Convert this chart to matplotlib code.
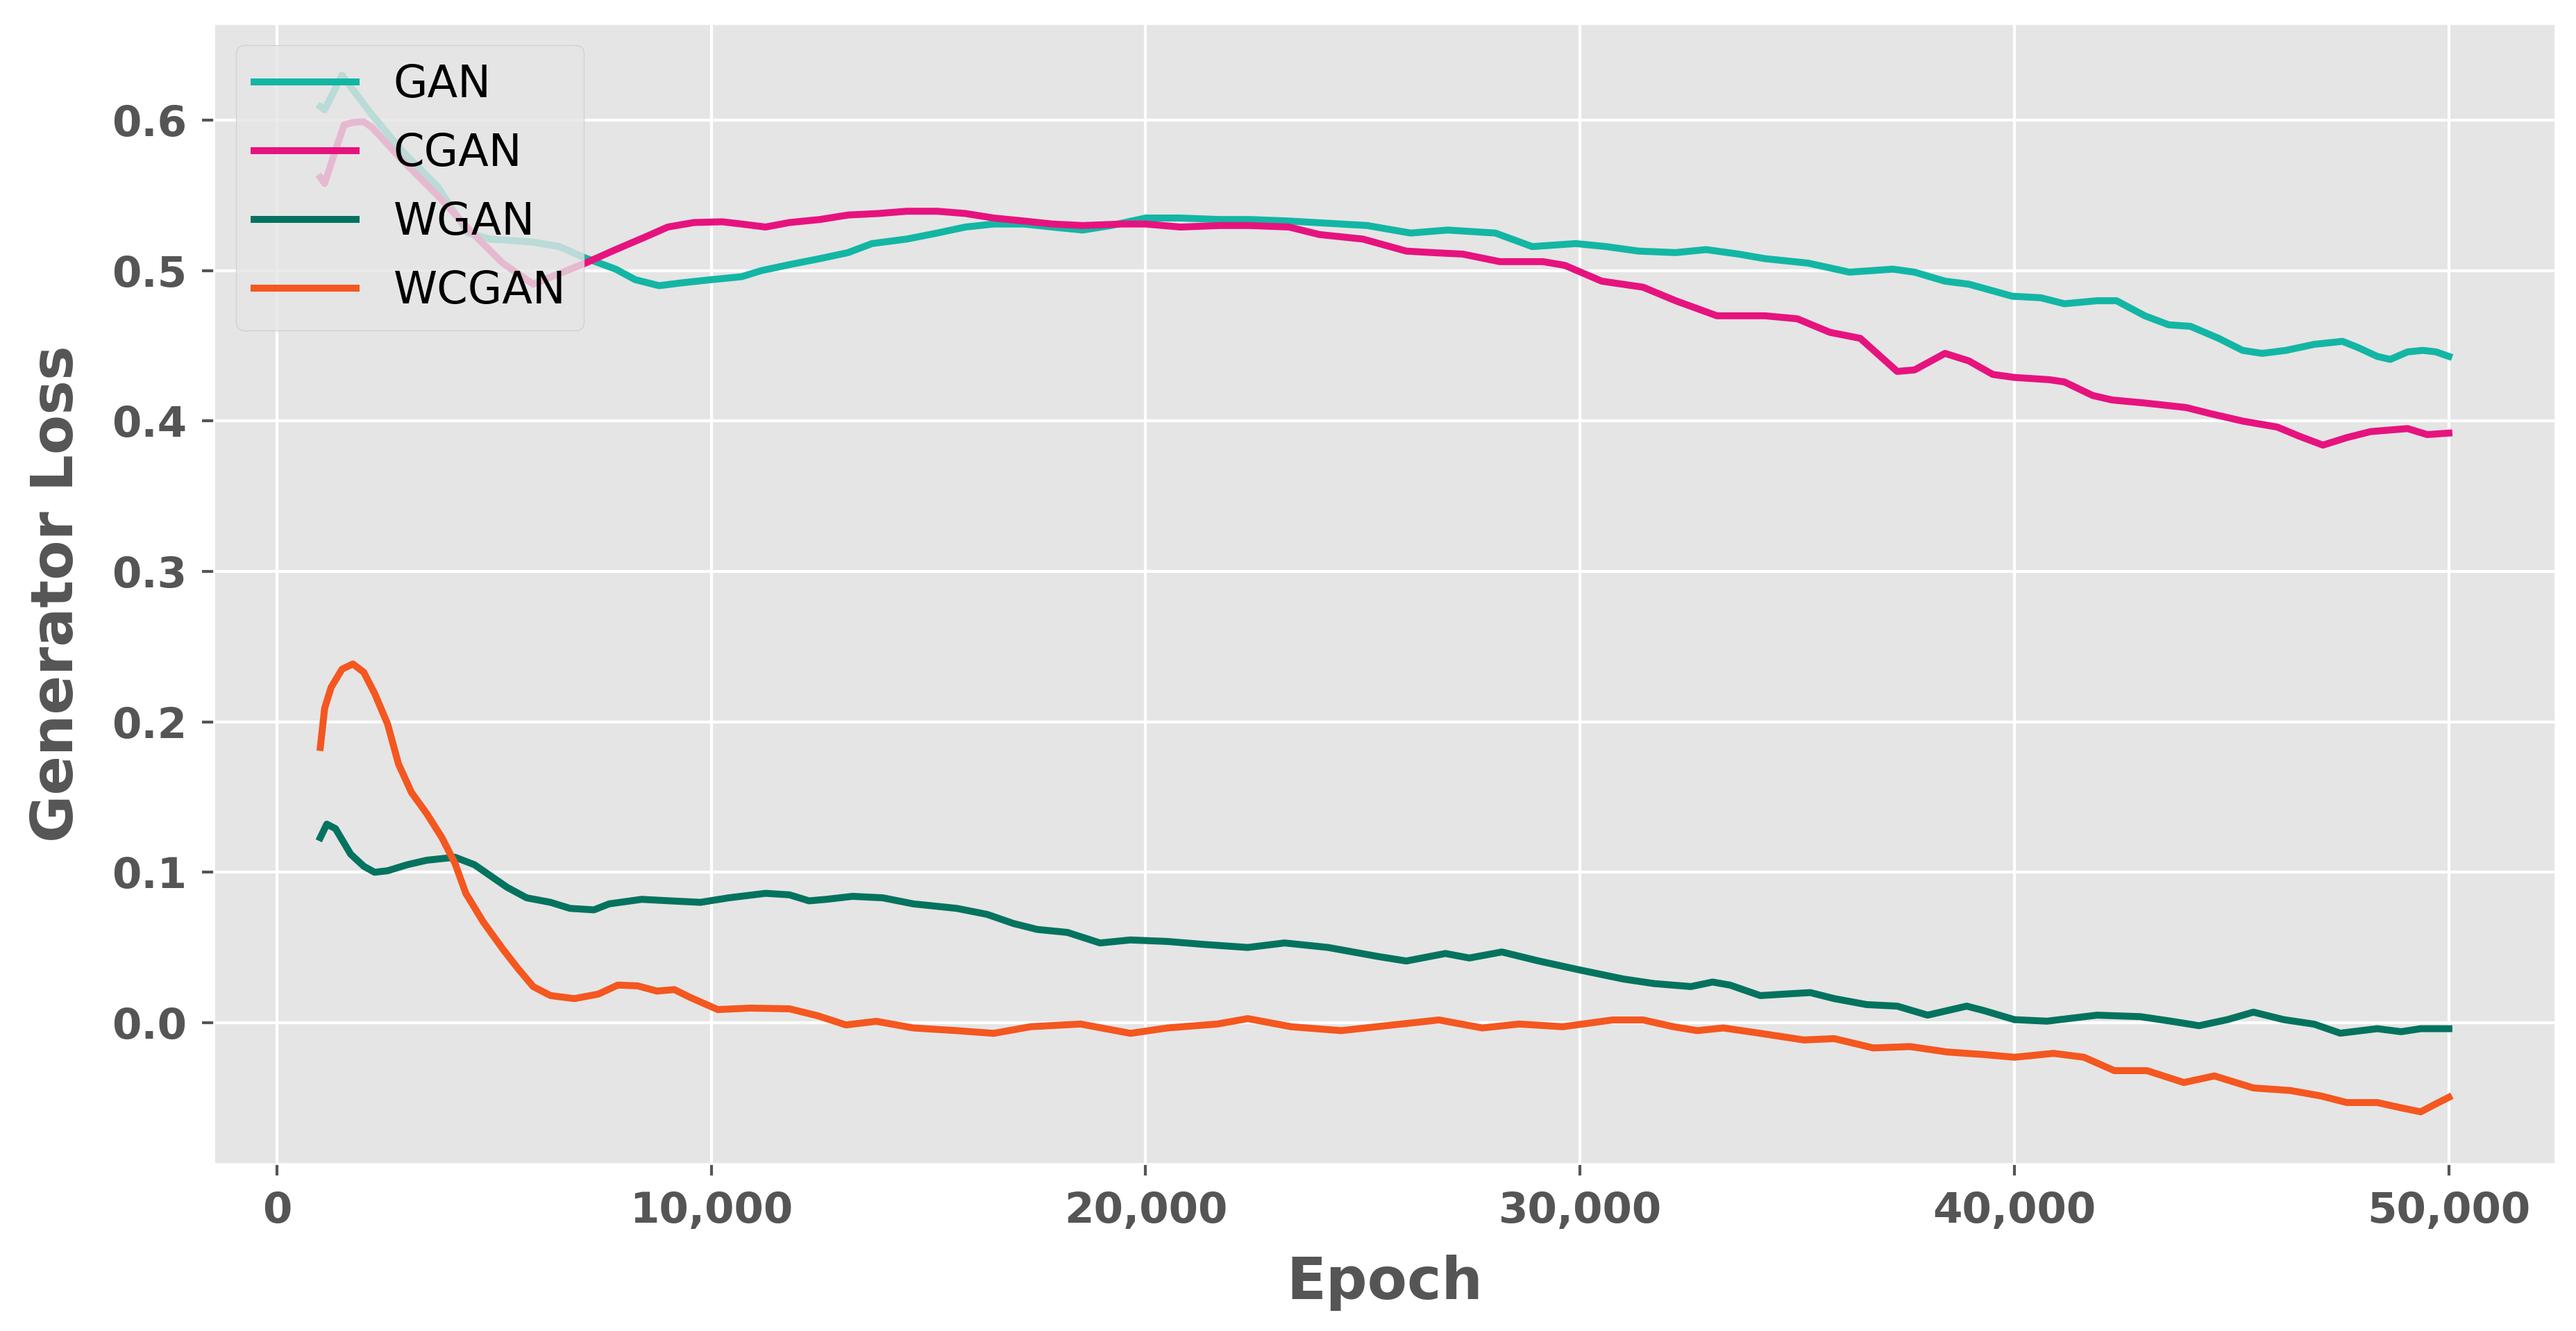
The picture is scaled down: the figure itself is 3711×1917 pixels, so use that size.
import matplotlib
matplotlib.use("Agg")
import matplotlib.pyplot as plt
from matplotlib.ticker import FuncFormatter

plt.style.use("ggplot")

# values (smoothed generator loss)
gan_epoch = [1000, 1100, 1500, 2150, 2870, 3700, 4400, 4900, 5900, 6500, 7050, 7800, 8250,
             8800, 9350, 10000, 10700, 11150, 11800, 12500, 13150, 13700, 14500, 15200,
             15850, 16500, 17200, 17850, 18550, 19200, 20000, 20800, 21700, 22400, 23300,
             24500, 25100, 26100, 26950, 28050, 28900, 29900, 30600, 31350, 32200, 32900,
             33650, 34250, 35250, 36200, 37200, 37700, 38400, 38950, 39950, 40600, 41150,
             41900, 42350, 43000, 43550, 44050, 44700, 45250, 45700, 46250, 46900, 47550,
             47900, 48350, 48650, 49050, 49400, 49700, 50000]
gan_loss = [0.609, 0.607, 0.630, 0.605, 0.580, 0.556, 0.525, 0.521, 0.519, 0.516, 0.509,
            0.501, 0.494, 0.490, 0.492, 0.494, 0.496, 0.500, 0.504, 0.508, 0.512, 0.518,
            0.521, 0.525, 0.529, 0.531, 0.531, 0.529, 0.527, 0.530, 0.535, 0.535, 0.534,
            0.534, 0.533, 0.531, 0.530, 0.525, 0.527, 0.525, 0.516, 0.518, 0.516, 0.513,
            0.512, 0.514, 0.511, 0.508, 0.505, 0.499, 0.501, 0.499, 0.493, 0.491, 0.483,
            0.482, 0.478, 0.480, 0.480, 0.470, 0.464, 0.463, 0.455, 0.447, 0.445, 0.447,
            0.451, 0.453, 0.449, 0.443, 0.441, 0.446, 0.447, 0.446, 0.443]

cgan_epoch = [1000, 1100, 1350, 1550, 1750, 2000, 2200, 2870, 3700, 4500, 5200, 5900, 6500,
              7100, 7800, 8450, 9000, 9600, 10250, 10700, 11250, 11800, 12500, 13150, 13850,
              14500, 15200, 15850, 16500, 17200, 17850, 18550, 19450, 20000, 20800, 21700,
              22400, 23300, 24000, 25000, 26000, 26600, 27300, 28150, 29150, 29650, 30500,
              31450, 32200, 33150, 34250, 35000, 35750, 36450, 37300, 37700, 38400, 38950,
              39500, 40000, 40800, 41150, 41800, 42250, 43000, 43950, 44500, 45250, 46050,
              46550, 47100, 47650, 48200, 49050, 49500, 50000]
cgan_loss = [0.562, 0.558, 0.580, 0.597, 0.5985, 0.599, 0.595, 0.574, 0.550, 0.525, 0.505,
             0.491, 0.498, 0.505, 0.514, 0.522, 0.529, 0.532, 0.5325, 0.531, 0.529, 0.532,
             0.534, 0.537, 0.538, 0.5395, 0.5395, 0.538, 0.535, 0.533, 0.531, 0.530, 0.531,
             0.531, 0.529, 0.530, 0.530, 0.529, 0.524, 0.521, 0.513, 0.512, 0.511, 0.506,
             0.506, 0.5035, 0.493, 0.489, 0.480, 0.470, 0.470, 0.468, 0.459, 0.455, 0.433,
             0.434, 0.445, 0.440, 0.431, 0.429, 0.4275, 0.426, 0.417, 0.414, 0.412, 0.409,
             0.405, 0.400, 0.396, 0.390, 0.384, 0.389, 0.393, 0.395, 0.391, 0.392]

wgan_epoch = [1000, 1150, 1350, 1700, 2000, 2250, 2550, 3000, 3450, 4100, 4550, 4900, 5300,
              5750, 6300, 6750, 7300, 7650, 8400, 9050, 9750, 10400, 11250, 11800, 12250,
              12650, 13250, 13950, 14650, 15650, 16350, 16950, 17500, 18200, 18950, 19650,
              20500, 21350, 22350, 23200, 24200, 25350, 26000, 26900, 27450, 28200, 29050,
              30000, 31000, 31700, 32550, 33050, 33450, 34150, 34700, 35300, 35850, 36600,
              37300, 38000, 38900, 39300, 40000, 40750, 41900, 42900, 43600, 44250, 44900,
              45500, 46200, 46900, 47500, 48350, 48900, 49350, 50000]
wgan_loss = [0.123, 0.132, 0.129, 0.112, 0.104, 0.100, 0.101, 0.105, 0.108, 0.110, 0.105,
             0.098, 0.090, 0.083, 0.080, 0.076, 0.075, 0.079, 0.082, 0.081, 0.080, 0.083,
             0.086, 0.085, 0.081, 0.082, 0.084, 0.083, 0.079, 0.076, 0.072, 0.066, 0.062,
             0.060, 0.053, 0.055, 0.054, 0.052, 0.050, 0.053, 0.050, 0.044, 0.041, 0.046,
             0.043, 0.047, 0.041, 0.035, 0.029, 0.026, 0.024, 0.027, 0.025, 0.018, 0.019,
             0.020, 0.016, 0.012, 0.011, 0.005, 0.011, 0.008, 0.002, 0.001, 0.005, 0.004,
             0.001, -0.002, 0.002, 0.007, 0.002, -0.001, -0.007, -0.004, -0.006, -0.004,
             -0.004]

wcgan_epoch = [1000, 1100, 1250, 1500, 1750, 2000, 2250, 2550, 2800, 3100, 3450, 3800, 4100,
               4350, 4750, 5200, 5550, 5900, 6300, 6850, 7400, 7850, 8300, 8750, 9150, 9500,
               10150, 10900, 11800, 12450, 13100, 13800, 14650, 15650, 16500, 17350, 18500,
               19650, 20500, 21650, 22350, 23350, 24500, 25600, 26750, 27750, 28600, 29600,
               30750, 31450, 32150, 32700, 33300, 34150, 35150, 35850, 36750, 37600, 38450,
               39300, 40000, 40900, 41600, 42300, 43050, 43900, 44600, 45500, 46350, 47050,
               47650, 48350, 48900, 49350, 49700, 50000]
wcgan_loss = [0.183, 0.209, 0.223, 0.235, 0.2385, 0.233, 0.219, 0.1985, 0.172, 0.153, 0.139,
              0.123, 0.106, 0.086, 0.067, 0.049, 0.036, 0.024, 0.018, 0.016, 0.019, 0.025,
              0.0245, 0.021, 0.022, 0.017, 0.0087, 0.0097, 0.0092, 0.0046, -0.0015, 0.0009,
              -0.0035, -0.0053, -0.0071, -0.0027, -0.0009, -0.0071, -0.0035, -0.0009, 0.0027,
              -0.0027, -0.0053, -0.0018, 0.0018, -0.0035, -0.0009, -0.0027, 0.0018, 0.0018,
              -0.0027, -0.0053, -0.0035, -0.0071, -0.0115, -0.0106, -0.0168, -0.0159, -0.0195,
              -0.0212, -0.023, -0.0204, -0.023, -0.0319, -0.0319, -0.0398, -0.0354, -0.0434,
              -0.0451, -0.0487, -0.0531, -0.0531, -0.0566, -0.0593, -0.054, -0.0496]

fig = plt.figure(figsize=(18.56, 9.585), dpi=200)
ax = fig.add_axes([0.083, 0.1257, 0.9087, 0.8568])

lw = 3.6
ax.plot(gan_epoch, gan_loss, color="#13B6A4", lw=lw, label="GAN")
ax.plot(cgan_epoch, cgan_loss, color="#E6137F", lw=lw, label="CGAN")
ax.plot(wgan_epoch, wgan_loss, color="#03735F", lw=lw, label="WGAN")
ax.plot(wcgan_epoch, wcgan_loss, color="#F4571F", lw=lw, label="WCGAN")

ax.grid(True, color="white", lw=1.5)
ax.set_facecolor("#E5E5E5")
ax.xaxis.set_major_formatter(FuncFormatter(lambda v, p: f"{int(v):,}"))

ax.tick_params(axis="both", which="major", length=6, width=1.5, pad=8,
               colors="#555555", labelsize=22)
for lab in ax.get_xticklabels() + ax.get_yticklabels():
    lab.set_fontweight("bold")

ax.set_xlabel("Epoch", fontsize=30, fontweight="bold", color="#555555", labelpad=12)
ax.set_ylabel("Generator Loss", fontsize=30, fontweight="bold", color="#555555", labelpad=14)

leg = ax.legend(loc="upper left", fontsize=23, handlelength=2.3, handletextpad=0.85,
                labelspacing=0.58, framealpha=0.8)
for t in leg.get_texts():
    t.set_color("black")

fig.savefig("out.png", dpi=200)
